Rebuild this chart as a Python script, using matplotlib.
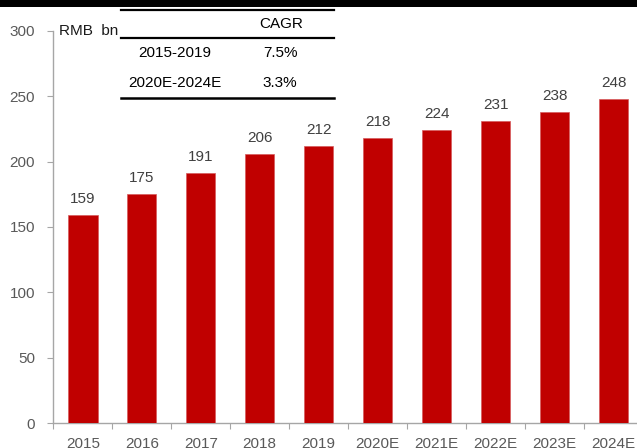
import numpy as np
import matplotlib.pyplot as plt
from matplotlib.lines import Line2D
from matplotlib.patches import Rectangle

plt.rcParams['font.family'] = ['Liberation Sans', 'DejaVu Sans']
plt.rcParams['font.size'] = 11

years = ['2015', '2016', '2017', '2018', '2019',
         '2020E', '2021E', '2022E', '2023E', '2024E']
values = [159, 175, 191, 206, 212, 218, 224, 231, 238, 248]

cagr_periods = ['2015-2019', '2020E-2024E']
cagr_values = ['7.5%', '3.3%']

bar_color = '#C00000'
axis_color = '#A6A6A6'
tick_color = '#595959'

W, H = 637, 448


def fx(x):
    return x / W


def fy(y):
    return 1 - y / H


fig = plt.figure(figsize=(W / 100, H / 100), dpi=100)
ax = fig.add_axes([fx(53.3), fy(423.3), (643 - 53.3) / W, (423.3 - 30.7) / H])

x = np.arange(len(years))
ax.bar(x, values, width=0.5, color=bar_color, edgecolor='#D65a5c', linewidth=0.5, zorder=3)

for xi, v in zip(x, values):
    ax.annotate(str(v), (xi, v), xytext=(0, 11.5), textcoords='offset points',
                ha='center', va='center', fontsize=11, color='#404040')

ax.set_xlim(-0.5, len(years) - 0.5)
ax.set_ylim(0, 300)
ax.set_yticks(np.arange(0, 301, 50))

# ticks between the categories, labels in the middle
ax.set_xticks(np.arange(-0.5, len(years), 1))
ax.set_xticklabels([])
ax.set_xticks(x, minor=True)
ax.set_xticklabels(years, minor=True)
ax.tick_params(axis='x', which='major', length=4, color=axis_color, direction='out')
ax.tick_params(axis='x', which='minor', length=0, pad=10, labelcolor=tick_color, labelsize=11)
ax.tick_params(axis='y', length=4, color=axis_color, pad=9, labelcolor=tick_color, labelsize=11)

for s in ['top', 'right']:
    ax.spines[s].set_visible(False)
for s in ['left', 'bottom']:
    ax.spines[s].set_color(axis_color)
    ax.spines[s].set_linewidth(1.0)

fig.text(fx(59), fy(31), 'RMB  bn', ha='left', va='center', fontsize=11, color='#1a1a1a')

# black rule at the very top (title bar of the page)
fig.add_artist(Rectangle((0, fy(7)), 1, 7 / H, transform=fig.transFigure,
                         color='black', lw=0))

# CAGR table
tx0, tx1 = fx(121), fx(334)
for yy, lw in [(10.5, 1.6), (38.3, 1.6), (97.7, 1.8)]:
    fig.add_artist(Line2D([tx0, tx1], [fy(yy), fy(yy)], transform=fig.transFigure,
                          color='black', lw=lw))
fig.text(fx(281), fy(24), 'CAGR', ha='center', va='center', fontsize=11)
for i, (p, c) in enumerate(zip(cagr_periods, cagr_values)):
    yy = 53.3 + i * 29.4
    fig.text(fx(175), fy(yy), p, ha='center', va='center', fontsize=11)
    fig.text(fx(280), fy(yy), c, ha='center', va='center', fontsize=11)

fig.savefig('out.png', dpi=100)
